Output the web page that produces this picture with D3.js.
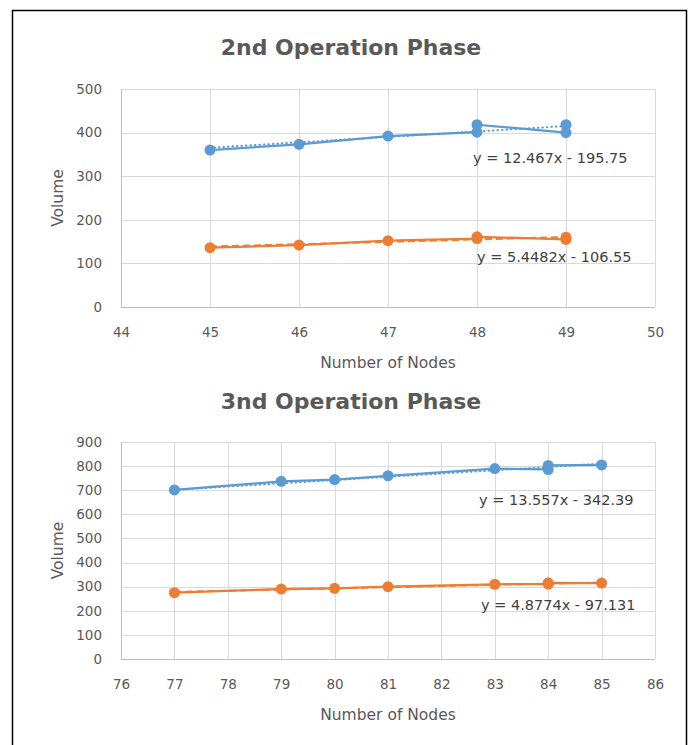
<!DOCTYPE html>
<html>
<head>
<meta charset="utf-8">
<script src="https://cdn.jsdelivr.net/npm/d3@7"></script>
<style>
  body { margin: 0; background: #fff; }
  svg text { font-family: "DejaVu Sans", "Noto Sans", sans-serif; fill: #595959; }
  .grid line { stroke: #d9d9d9; stroke-width: 1; }
  .axis path, .axis line { display: none; }
  .axis text { font-size: 13.5px; fill: #595959; font-family: "DejaVu Sans", sans-serif; }
</style>
</head>
<body>
<svg id="chart" width="691" height="745"></svg>
<script>
// 2nd operation phase
const nodes2 = [45, 46, 47, 48, 48, 49, 49];
const blue2 = [360, 373, 392, 401, 418, 400, 418];
const orange2 = [136, 142, 152, 157, 161, 155, 160];
const trend2 = [[12.467, -195.75], [5.4482, -106.55]];
const eqLabels2 = ['y = 12.467x - 195.75', 'y = 5.4482x - 106.55'];

// 3nd operation phase
const nodes3 = [77, 79, 80, 81, 83, 84, 84, 85];
const blue3 = [701, 737, 744, 760, 790, 786, 803, 805];
const orange3 = [275, 290, 293, 300, 310, 311, 316, 315];
const trend3 = [[13.557, -342.39], [4.8774, -97.131]];
const eqLabels3 = ['y = 13.557x - 342.39', 'y = 4.8774x - 97.131'];

const BLUE = '#5b9bd5', ORANGE = '#ed7d31';

const svg = d3.select('#chart');

// outer frame
svg.append('rect')
  .attr('x', 12.5).attr('y', 10.5)
  .attr('width', 674).attr('height', 760)
  .attr('fill', 'none')
  .attr('stroke', '#000')
  .attr('stroke-width', 1.5);

const drawPanel = (opt) => {
  const {title, xs, series, trends, labels, xDomain, yDomain, yStep, box, titleY, labelPos} = opt;
  const g = svg.append('g');

  const x = d3.scaleLinear().domain(xDomain).range([box.left, box.right]);
  const y = d3.scaleLinear().domain(yDomain).range([box.bottom, box.top]);
  const xTicks = d3.range(xDomain[0], xDomain[1] + 1);
  const yTicks = d3.range(yDomain[0], yDomain[1] + 1, yStep);

  // gridlines
  const grid = g.append('g').attr('class', 'grid');
  grid.selectAll('line.h').data(yTicks).join('line')
    .attr('x1', box.left).attr('x2', box.right)
    .attr('y1', d => Math.round(y(d)) + 0.5).attr('y2', d => Math.round(y(d)) + 0.5);
  grid.selectAll('line.v').data(xTicks).join('line')
    .attr('y1', box.top).attr('y2', box.bottom)
    .attr('x1', d => Math.round(x(d)) + 0.5).attr('x2', d => Math.round(x(d)) + 0.5);
  // axis baselines
  g.append('line')
    .attr('x1', box.left).attr('x2', box.right)
    .attr('y1', Math.round(y(yDomain[0])) + 0.5).attr('y2', Math.round(y(yDomain[0])) + 0.5)
    .attr('stroke', '#bfbfbf');
  g.append('line')
    .attr('x1', Math.round(x(xDomain[0])) + 0.5).attr('x2', Math.round(x(xDomain[0])) + 0.5)
    .attr('y1', box.top).attr('y2', box.bottom)
    .attr('stroke', '#bfbfbf');

  // axes (labels only)
  g.append('g').attr('class', 'axis')
    .attr('transform', `translate(0, ${box.bottom + 17})`)
    .call(d3.axisBottom(x).tickValues(xTicks).tickSize(0).tickFormat(d3.format('d')));
  g.append('g').attr('class', 'axis')
    .attr('transform', `translate(${box.left - 16}, 0)`)
    .call(d3.axisLeft(y).tickValues(yTicks).tickSize(0).tickFormat(d3.format('d')));

  // titles
  g.append('text')
    .attr('x', (box.left + box.right) / 2 - 37).attr('y', titleY)
    .attr('text-anchor', 'middle')
    .attr('font-size', 22).attr('font-weight', 'bold')
    .text(title);
  g.append('text')
    .attr('x', (box.left + box.right) / 2).attr('y', box.bottom + 61)
    .attr('text-anchor', 'middle')
    .attr('font-size', 15.5)
    .text('Number of Nodes');
  g.append('text')
    .attr('transform', `translate(63, ${(box.top + box.bottom) / 2}) rotate(-90)`)
    .attr('text-anchor', 'middle')
    .attr('font-size', 15.5)
    .text('Volume');

  const colors = [BLUE, ORANGE];
  const line = d3.line().x(d => x(d[0])).y(d => y(d[1]));

  series.forEach((vals, si) => {
    const pts = xs.map((v, i) => [v, vals[i]]);
    g.append('path')
      .datum(pts)
      .attr('d', line)
      .attr('fill', 'none')
      .attr('stroke', colors[si])
      .attr('stroke-width', 2.25)
      .attr('stroke-linejoin', 'round');
    // linear trendline from the fitted equation
    const [m, b] = trends[si];
    const ext = d3.extent(xs);
    g.append('path')
      .datum(ext.map(v => [v, m * v + b]))
      .attr('d', line)
      .attr('fill', 'none')
      .attr('stroke', colors[si])
      .attr('stroke-width', 2)
      .attr('stroke-linecap', si === 0 ? 'round' : 'butt')
      .attr('stroke-dasharray', si === 0 ? '0.5 4' : '7 4');
    g.selectAll(null).data(pts).join('circle')
      .attr('cx', d => x(d[0])).attr('cy', d => y(d[1]))
      .attr('r', 5.5)
      .attr('fill', colors[si]);
    g.append('text')
      .attr('x', labelPos[si][0]).attr('y', labelPos[si][1])
      .attr('font-size', 14.5)
      .style('fill', '#404040')
      .attr('xml:space', 'preserve')
      .text(labels[si]);
  });
};

drawPanel({
  title: '2nd Operation Phase',
  xs: nodes2,
  series: [blue2, orange2],
  trends: trend2,
  labels: eqLabels2,
  xDomain: [44, 50],
  yDomain: [0, 500],
  yStep: 100,
  box: {left: 121, right: 655, top: 89, bottom: 307},
  titleY: 55,
  labelPos: [[473, 163], [477, 262]]
});

drawPanel({
  title: '3nd Operation Phase',
  xs: nodes3,
  series: [blue3, orange3],
  trends: trend3,
  labels: eqLabels3,
  xDomain: [76, 86],
  yDomain: [0, 900],
  yStep: 100,
  box: {left: 121, right: 655, top: 442, bottom: 659},
  titleY: 409,
  labelPos: [[479, 505], [481, 610]]
});
</script>
</body>
</html>
